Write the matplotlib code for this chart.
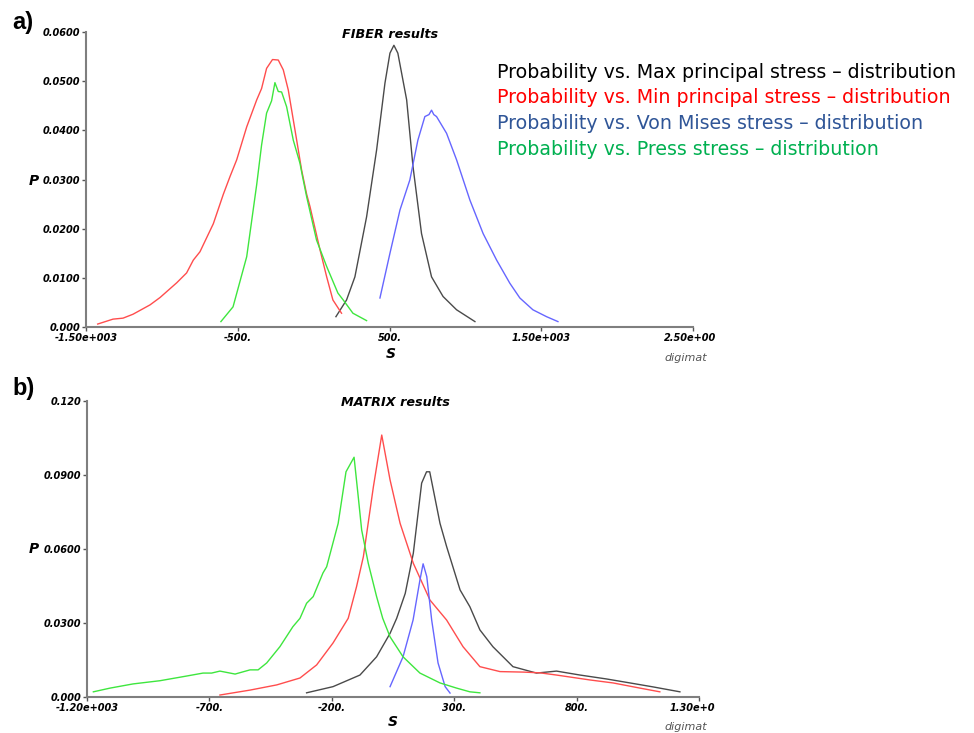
import matplotlib
matplotlib.use("Agg")
import matplotlib.pyplot as plt
from matplotlib.patches import Rectangle

# ---- FIBER results (panel a) ----
fib_max_x = [147, 217, 272, 349, 415, 470, 503, 529, 555, 613, 655, 711, 777, 853, 942, 1063]
fib_max_y = [0.0021, 0.0055, 0.0102, 0.0224, 0.0360, 0.0496, 0.0557, 0.0573, 0.0557, 0.0462,
             0.0326, 0.0190, 0.0102, 0.0062, 0.0035, 0.0011]
fib_min_x = [-1423, -1322, -1256, -1190, -1078, -1012, -902, -837, -793, -749, -661, -595, -551,
             -507, -441, -375, -343, -310, -271, -233, -200, -167, -123, -79, -46, -24, 42, 86, 127, 184]
fib_min_y = [0.0006, 0.0016, 0.0018, 0.0026, 0.0045, 0.0060, 0.0090, 0.0110, 0.0136, 0.0153,
             0.0210, 0.0270, 0.0306, 0.0340, 0.0407, 0.0462, 0.0485, 0.0526, 0.0544, 0.0543,
             0.0523, 0.0482, 0.0401, 0.0319, 0.0270, 0.0245, 0.0157, 0.0102, 0.0055, 0.0028]
fib_vm_x = [437, 503, 569, 634, 687, 733, 760, 777, 792, 810, 876, 942, 1030, 1117, 1206, 1293,
            1359, 1445, 1535, 1610]
fib_vm_y = [0.0059, 0.0150, 0.0238, 0.0299, 0.0380, 0.0428, 0.0432, 0.0441, 0.0432, 0.0428,
            0.0394, 0.0340, 0.0258, 0.0190, 0.0136, 0.0089, 0.0059, 0.0035, 0.0021, 0.0011]
fib_pr_x = [-611, -531, -441, -375, -343, -310, -277, -255, -233, -211, -178, -134, -90, -73, -46,
            19, 86, 160, 195, 259, 349]
fib_pr_y = [0.0011, 0.0041, 0.0143, 0.0290, 0.0370, 0.0435, 0.0460, 0.0497, 0.0479, 0.0478,
            0.0448, 0.0380, 0.0333, 0.0306, 0.0265, 0.0177, 0.0123, 0.0069, 0.0055, 0.0028, 0.0013]

# ---- MATRIX results (panel b) ----
mat_max_x = [-303, -195, -85, -17, 38, 65, 100, 133, 167, 187, 200, 242, 269, 324, 364, 405, 458,
             540, 636, 718, 814, 923, 1018, 1112, 1222]
mat_max_y = [0.0017, 0.0042, 0.0089, 0.0163, 0.0258, 0.0319, 0.0420, 0.0583, 0.0867, 0.0913,
             0.0913, 0.0704, 0.0610, 0.0434, 0.0366, 0.0272, 0.0204, 0.0123, 0.0097, 0.0105,
             0.0089, 0.0073, 0.0057, 0.0041, 0.0021]
mat_min_x = [-657, -534, -425, -330, -262, -195, -133, -99, -71, -30, 4, 38, 79, 133, 201, 269,
             336, 405, 487, 581, 650, 718, 855, 949, 1059, 1140]
mat_min_y = [0.0008, 0.0028, 0.0049, 0.0077, 0.0130, 0.0219, 0.0319, 0.0447, 0.0569, 0.0853,
             0.1062, 0.0880, 0.0704, 0.0542, 0.0393, 0.0312, 0.0204, 0.0123, 0.0103, 0.0101,
             0.0098, 0.0089, 0.0069, 0.0057, 0.0036, 0.0021]
mat_vm_x = [38, 91, 132, 160, 173, 188, 208, 234, 263, 283]
mat_vm_y = [0.0042, 0.0163, 0.0312, 0.0474, 0.0540, 0.0488, 0.0312, 0.0138, 0.0042, 0.0016]
mat_pr_x = [-1174, -1106, -1012, -902, -793, -726, -691, -657, -595, -534, -501, -466, -412, -359,
            -330, -303, -276, -236, -221, -174, -142, -109, -92, -78, -51, -17, 8, 38, 91, 160,
            242, 310, 364, 405]
mat_pr_y = [0.0021, 0.0036, 0.0053, 0.0066, 0.0085, 0.0097, 0.0097, 0.0105, 0.0093, 0.0110,
            0.0110, 0.0138, 0.0204, 0.0285, 0.0319, 0.0380, 0.0407, 0.0503, 0.0528, 0.0704,
            0.0913, 0.0972, 0.0812, 0.0677, 0.0542, 0.0407, 0.0319, 0.0244, 0.0163, 0.0097,
            0.0057, 0.0036, 0.0021, 0.0017]

fib_xticks = [-1500, -500, 500, 1500, 2500]
fib_xlabels = ['-1.50e+003', '-500.', '500.', '1.50e+003', '2.50e+003']
fib_yticks = [0, 0.01, 0.02, 0.03, 0.04, 0.05, 0.06]
fib_ylabels = ['0.000', '0.0100', '0.0200', '0.0300', '0.0400', '0.0500', '0.0600']
mat_xticks = [-1200, -700, -200, 300, 800, 1300]
mat_xlabels = ['-1.20e+003', '-700.', '-200.', '300.', '800.', '1.30e+003']
mat_yticks = [0, 0.03, 0.06, 0.09, 0.12]
mat_ylabels = ['0.000', '0.0300', '0.0600', '0.0900', '0.120']

legend_lines = ['Probability vs. Max principal stress \u2013 distribution',
                'Probability vs. Min principal stress \u2013 distribution',
                'Probability vs. Von Mises stress \u2013 distribution',
                'Probability vs. Press stress \u2013 distribution']
legend_colors = ['#000000', '#ff0000', '#2f5597', '#00b050']

c_max, c_min, c_vm, c_pr = '#4a4a4a', '#ff4d4d', '#6666ff', '#3ee63e'

W, H = 974, 733
fig = plt.figure(figsize=(W / 100, H / 100), dpi=100)


def px(x, y):
    # pixel position (from top-left) -> figure fraction
    return x / W, 1 - y / H


def style_axes(ax, xt, xl, yt, yl, xlim, ylim):
    ax.set_xlim(xlim)
    ax.set_ylim(ylim)
    for s in ['top', 'right']:
        ax.spines[s].set_visible(False)
    for s in ['left', 'bottom']:
        ax.spines[s].set_color('#7f7f7f')
        ax.spines[s].set_linewidth(1.5)
    ax.set_xticks(xt)
    ax.set_xticklabels(xl)
    ax.set_yticks(yt)
    ax.set_yticklabels(yl)
    ax.tick_params(length=3, width=1, color='#555555', pad=1, labelsize=7)
    for lab in ax.get_xticklabels() + ax.get_yticklabels():
        lab.set_fontweight('bold')
        lab.set_fontstyle('italic')


def bi_text(x, y, s, size):
    fig.text(*px(x, y), s, fontsize=size, fontweight='bold', fontstyle='italic',
             ha='center', va='center')


# panel a
ax1 = fig.add_axes([86 / W, 1 - 327 / H, 607 / W, 295 / H])
ax1.plot(fib_max_x, fib_max_y, color=c_max, lw=1)
ax1.plot(fib_min_x, fib_min_y, color=c_min, lw=1)
ax1.plot(fib_vm_x, fib_vm_y, color=c_vm, lw=1)
ax1.plot(fib_pr_x, fib_pr_y, color=c_pr, lw=1)
style_axes(ax1, fib_xticks, fib_xlabels, fib_yticks, fib_ylabels, (-1500, 2500), (0, 0.06))
bi_text(390, 34, 'FIBER results', 9.2)
bi_text(391, 354, 'S', 10)
bi_text(34, 181, 'P', 10)

# panel b
ax2 = fig.add_axes([87 / W, 1 - 697 / H, 612 / W, 296 / H])
ax2.plot(mat_max_x, mat_max_y, color=c_max, lw=1)
ax2.plot(mat_min_x, mat_min_y, color=c_min, lw=1)
ax2.plot(mat_vm_x, mat_vm_y, color=c_vm, lw=1)
ax2.plot(mat_pr_x, mat_pr_y, color=c_pr, lw=1)
style_axes(ax2, mat_xticks, mat_xlabels, mat_yticks, mat_ylabels, (-1200, 1300), (0, 0.12))
bi_text(395, 403, 'MATRIX results', 9.2)
bi_text(393, 722, 'S', 10)
bi_text(34, 549, 'P', 10)

# digimat marks
for yy in [358, 727]:
    fig.text(*px(664, yy), 'digimat', fontsize=8, fontstyle='italic', color='#555555',
             va='center')

# the screenshot is cut on the right, below each plot
for top, bot in [(329, 366), (699, 733)]:
    fig.add_artist(Rectangle(px(715, bot), (W - 715) / W, (bot - top) / H,
                             transform=fig.transFigure, facecolor='white', edgecolor='none',
                             zorder=10))

# panel labels
fig.text(*px(12, 22), 'a)', fontsize=17, fontweight='bold', family='Liberation Sans',
         va='center')
fig.text(*px(12, 388), 'b)', fontsize=17, fontweight='bold', family='Liberation Sans',
         va='center')

# coloured legend text
for i, (txt, col) in enumerate(zip(legend_lines, legend_colors)):
    fig.text(*px(497, 72 + i * 25.7), txt, color=col, fontsize=13.7, va='center')

fig.savefig('out.png', dpi=100)
